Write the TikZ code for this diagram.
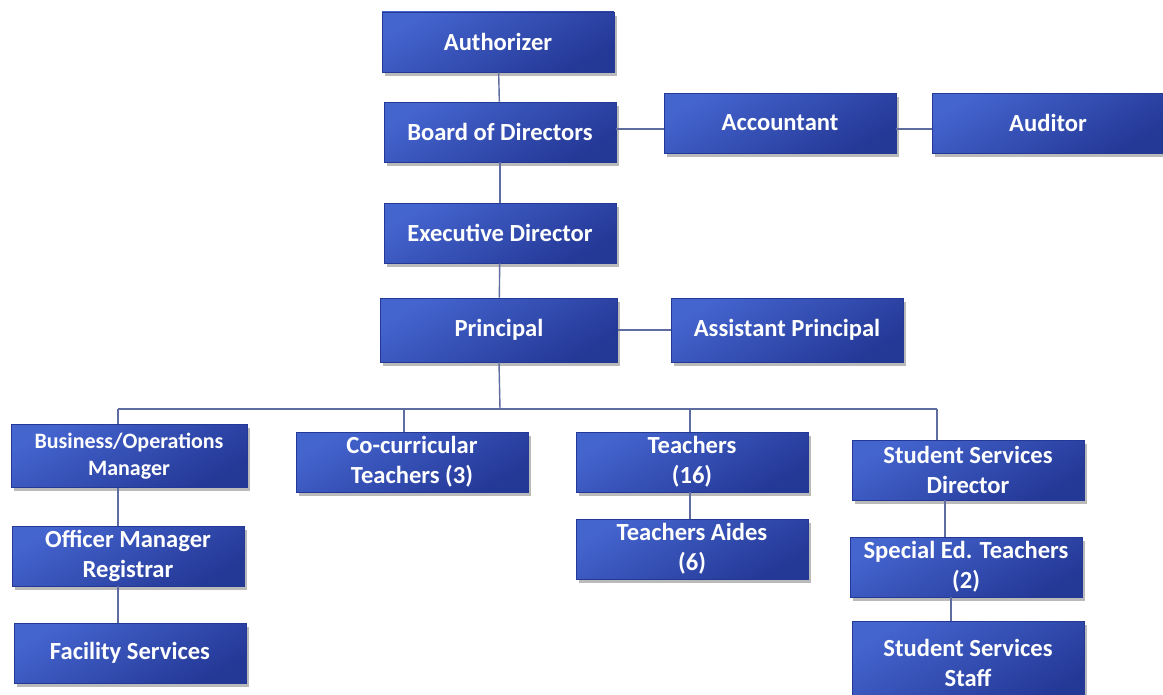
\documentclass[tikz,border=0pt]{standalone}
\usepackage{fontspec}
\setmainfont{Carlito}
\usetikzlibrary{shadows}
\definecolor{boxlight}{RGB}{68, 100, 206}
\definecolor{boxdark}{RGB}{36, 56, 150}
\definecolor{linkgray}{RGB}{95, 108, 160}

\begin{document}
\begin{tikzpicture}[x=0.02cm,y=-0.02cm]

\tikzstyle{blue-b} = [draw=boxdark, line width=0.3pt, text=white, font=\fontsize{14}{17}\selectfont\bfseries,
align=center, inner sep=2, minimum width=4.64cm, minimum height=1.2cm,
top color=boxlight, bottom color=boxdark, shading angle=30,
drop shadow={shadow xshift=1.5pt, shadow yshift=-2pt, fill=black!45, opacity=0.6}]
\tikzstyle{link} = [draw=linkgray, line width=0.8pt]

\clip (0,0) rectangle (1163,695);
\fill[white] (0,0) rectangle (1163,695);

\node [blue-b] (auth) at (498,42) {Authorizer};
\node [blue-b] (board) at (500,132) {Board of Directors};
\node [blue-b] (acct) at (780,123) {Accountant};
\node [blue-b] (audit) at (1048,123) {Auditor};
\node [blue-b] (exec) at (500,233) {Executive Director};
\node [blue-b, minimum width=4.74cm, minimum height=1.28cm] (princ) at (499,330) {Principal};
\node [blue-b, minimum height=1.28cm] (asst) at (787,330) {Assistant Principal};

\node [blue-b, minimum width=4.72cm, minimum height=1.26cm, font=\fontsize{12.5}{15}\selectfont\bfseries] (bom) at (129,456) {Business/Operations\\Manager};
\node [blue-b] (cocur) at (412,462) {Co-curricular\\Teachers (3)};
\node [blue-b] (teach) at (692,462) {Teachers\\(16)};
\node [blue-b] (ssdir) at (968,470) {Student Services\\Director};

\node [blue-b] (offm) at (128,556) {Officer Manager\\Registrar};
\node [blue-b] (facil) at (130,653) {Facility Services};
\node [blue-b] (aides) at (692,549) {Teachers Aides\\(6)};
\node [blue-b] (sped) at (966,567) {Special Ed. Teachers\\(2)};
\node [blue-b, minimum height=1.66cm] (ssstaff) at (968,663) {Student Services\\Staff};

% top of the chart
\coordinate (side) at (640,129);
\draw[link] (auth) -- (board);
\draw[link] (board) -- (exec);
\draw[link] (board.east |- side) -- (acct.west |- side);
\draw[link] (acct.east |- side) -- (audit.west |- side);
\draw[link] (exec) -- (princ);
\draw[link] (princ) -- (asst);

% bus under the principal
\coordinate (bus) at (500,409);
\coordinate (busL) at (118,409);
\coordinate (busR) at (937,409);
\draw[link] (princ.south) -- (bus);
\draw[link] (busL) -- (busR);
\draw[link] (busL) -- (bom.north -| busL);
\draw[link] (bus -| 404,0) -- (cocur.north -| 404,0);
\draw[link] (bus -| 690,0) -- (teach.north -| 690,0);
\draw[link] (busR) -- (ssdir.north -| busR);

\draw[link] (bom.south -| busL) -- (offm.north -| busL);
\draw[link] (offm.south -| busL) -- (facil.north -| busL);
\draw[link] (teach.south -| 690,0) -- (aides.north -| 690,0);
\draw[link] (ssdir.south -| 945,0) -- (sped.north -| 945,0);
\draw[link] (sped.south -| 951,0) -- (ssstaff.north -| 951,0);

\end{tikzpicture}
\end{document}
